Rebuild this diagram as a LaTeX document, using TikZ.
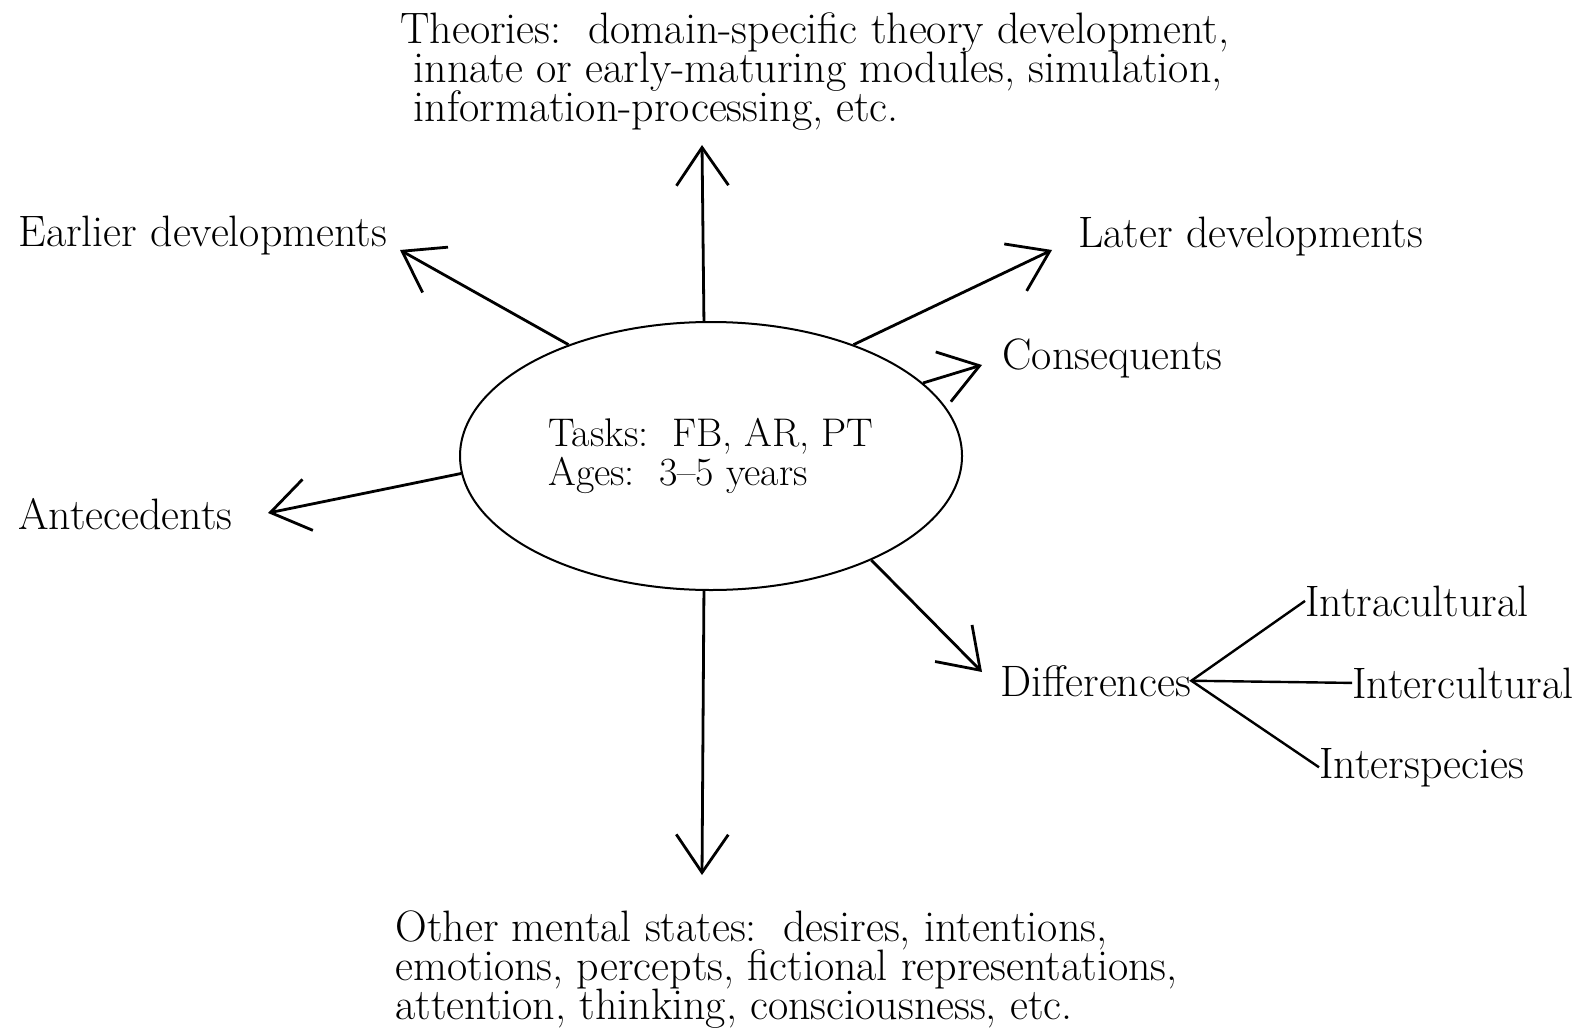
\documentclass[tikz,border=0pt]{standalone}
\usetikzlibrary{shapes.geometric,arrows.meta}

\begin{document}
\lineskiplimit=-20pt\relax
\begin{tikzpicture}[x=0.5pt,y=-0.5pt,
  lbl/.style={anchor=base west,inner sep=0pt,font=\fontsize{22}{19.5}\selectfont},
  blk/.style={lbl,align=left},
  arr/.style={line width=1.4pt,-{Straight Barb[length=19pt,width=26pt,line width=1.4pt]}}]
\useasboundingbox (0,0) rectangle (1582,1027);
\node[ellipse,draw,line width=1pt,minimum width=251pt,minimum height=134pt,inner sep=0pt,
  align=left,font=\fontsize{20}{19.5}\selectfont] (task) at (711,456)
  {Tasks:\ \ FB, AR, PT\\Ages:\ \ 3--5 years};
% labels round the ellipse
\node[blk] (theo) at (400,122) {Theories:\ \ domain-specific theory development,\\
  \ innate or early-maturing modules, simulation,\\
  \ information-processing, etc.};
\node[lbl] (early) at (18,246) {Earlier developments};
\node[lbl] (later) at (1078,247) {Later developments};
\node[lbl] (cons) at (1002,369) {Consequents};
\node[lbl] (ante) at (18,529) {Antecedents};
\node[lbl] (diff) at (1000,696) {Differences};
\node[lbl] (intra) at (1305,616) {Intracultural};
\node[lbl] (inter) at (1352,698) {Intercultural};
\node[lbl] (spec) at (1319,778) {Interspecies};
\node[blk] (other) at (395,1019) {Other mental states:\ \ desires, intentions,\\
  emotions, percepts, fictional representations,\\
  attention, thinking, consciousness, etc.};
% arrow tips
\coordinate (theotip) at (702,145);
\coordinate (earlytip) at (400,250);
\coordinate (latertip) at (1052,250);
\coordinate (constip) at (982,365);
\coordinate (antetip) at (268,513);
\coordinate (difftip) at (982,672);
\coordinate (othertip) at (702,875);
\draw[arr] (task.93) -- (theotip);
\draw[arr] (task.142) -- (earlytip);
\draw[arr] (task.38) -- (latertip);
\draw[arr] (task.19) -- (constip);
\draw[arr] (task.184) -- (antetip);
\draw[arr] (task.-33) -- (difftip);
\draw[arr] (task.-93) -- (othertip);
\draw[line width=1.2pt] (intra.west) -- (diff.east) -- (spec.west);
\draw[line width=1.2pt] (diff.east) -- (inter.west);
\end{tikzpicture}
\end{document}
